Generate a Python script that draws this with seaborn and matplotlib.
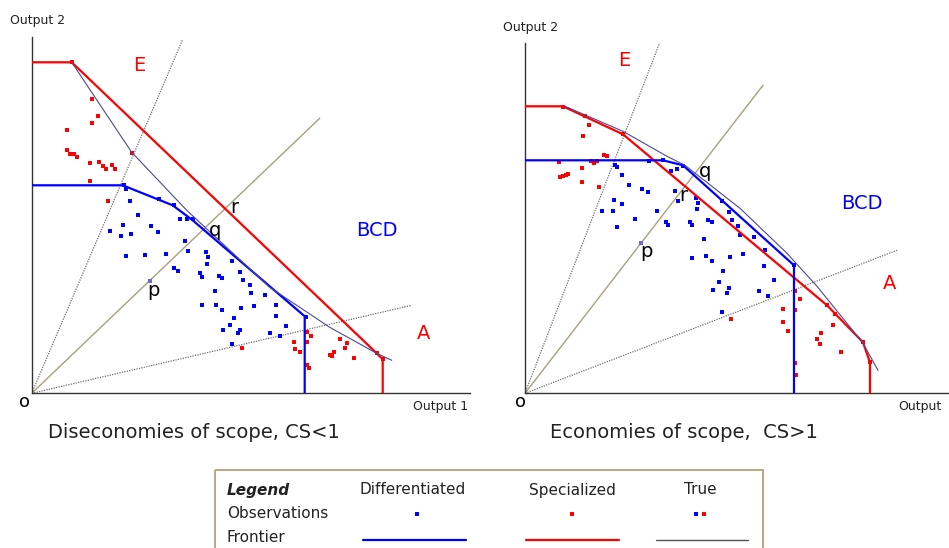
import matplotlib
matplotlib.use("Agg")
import matplotlib.pyplot as plt
import seaborn as sns
from matplotlib.patches import Rectangle

# --- Data (units: arbitrary output quantities, origin at "o") ---
# Left panel: diseconomies of scope
L_spec_front_x = [0, 40, 345, 351, 351]
L_spec_front_y = [331, 331, 40, 34, 0]
L_diff_front_x = [0, 91, 126, 141, 161, 273, 273]
L_diff_front_y = [208, 208, 194, 188, 173, 77, 0]
L_true_front_x = [40, 100, 155, 238, 298, 345, 360]
L_true_front_y = [331, 241, 183, 106, 66, 40, 33]

L_spec_obs_x = [60, 66, 60, 35, 35, 38, 42, 45, 58, 67, 71, 74, 80, 83, 100, 58, 76,
                210, 262, 263, 268, 275, 279, 275, 275, 277, 308, 315, 313, 298, 300,
                302, 322, 345, 351, 40]
L_spec_obs_y = [294, 277, 270, 263, 243, 239, 239, 236, 230, 231, 227, 224, 228, 224, 240,
                212, 192, 45, 51, 44, 41, 61, 57, 51, 28, 25, 54, 50, 45, 38, 37, 41, 35,
                40, 34, 331]
L_diff_obs_x = [92, 94, 98, 106, 127, 142, 148, 155, 161, 91, 78, 89, 99, 119, 126, 153,
                156, 134, 113, 94, 174, 176, 175, 200, 142, 146, 168, 170, 187, 190, 208,
                211, 218, 219, 183, 233, 170, 184, 190, 209, 222, 244, 202, 244, 274, 198,
                208, 206, 191, 238, 248, 254, 200]
L_diff_obs_y = [208, 204, 192, 178, 194, 188, 174, 174, 174, 168, 162, 157, 159, 167, 161,
                152, 142, 139, 138, 137, 141, 136, 129, 132, 125, 122, 120, 116, 117, 115,
                121, 113, 108, 100, 102, 98, 88, 88, 83, 85, 87, 88, 75, 77, 76, 68, 63,
                60, 63, 60, 57, 67, 49]
L_ray_end = {"E": (151, 354), "diag": (288, 275), "A": (380, 88)}
L_p_point = (118, 112)

# Right panel: economies of scope
R_spec_front_x = [0, 38, 98, 302, 338, 345, 345]
R_spec_front_y = [287, 287, 259, 88, 51, 31, 0]
R_diff_front_x = [0, 138, 158, 269, 269]
R_diff_front_y = [233, 233, 228, 128, 0]
R_true_front_x = [40, 98, 142, 160, 215, 262, 292, 322, 338, 353]
R_true_front_y = [287, 262, 237, 228, 185, 140, 107, 70, 50, 23]

R_spec_obs_x = [38, 60, 64, 58, 98, 79, 82, 34, 66, 69, 72, 57, 35, 38, 41, 43, 57, 74,
                206, 258, 258, 263, 270, 270, 275, 270, 271, 302, 310, 308, 296, 292, 295,
                316, 338, 345]
R_spec_obs_y = [286, 277, 268, 257, 259, 238, 237, 231, 232, 230, 232, 225, 216, 217, 218,
                219, 211, 206, 74, 84, 71, 62, 83, 102, 94, 30, 18, 88, 79, 68, 60, 54, 49,
                41, 51, 31]
R_diff_obs_x = [124, 138, 158, 152, 146, 90, 92, 97, 104, 117, 123, 150, 153, 171, 173,
                172, 197, 204, 89, 97, 77, 88, 132, 92, 110, 141, 143, 165, 167, 183, 187,
                207, 213, 215, 229, 179, 167, 181, 187, 205, 218, 240, 239, 198, 194, 188,
                204, 202, 234, 243, 249, 269, 197]
R_diff_obs_y = [232, 233, 227, 224, 222, 228, 226, 218, 208, 204, 201, 202, 192, 195, 190,
                184, 192, 181, 193, 189, 182, 182, 182, 166, 174, 171, 168, 171, 168, 173,
                171, 173, 167, 158, 156, 154, 135, 137, 132, 136, 139, 143, 127, 122, 111,
                103, 105, 100, 102, 97, 113, 128, 81]
R_ray_end = {"E": (136, 354), "diag": (238, 308), "A": (372, 143)}
R_p_point = (116, 150)

# --- Styling ---
RED = "#ff0000"
BLUE = "#0000ff"
TRUE_C = "#4a4a96"
RAY_C = "#707070"
DIAG_C = "#a8a07e"
TXT = "#222222"
W, H = 949, 548

sns.set_style("white")
plt.rcParams["font.family"] = ["DejaVu Sans"]

fig = plt.figure(figsize=(W / 100, H / 100), dpi=100)


def make_panel(rect, xmax, ymax):
    ax = fig.add_axes(rect)
    ax.set_xlim(0, xmax)
    ax.set_ylim(0, ymax)
    ax.set_facecolor("none")
    for s in ["top", "right"]:
        ax.spines[s].set_visible(False)
    for s in ["left", "bottom"]:
        ax.spines[s].set_color("#333333")
        ax.spines[s].set_linewidth(1.0)
    ax.set_xticks([])
    ax.set_yticks([])
    return ax


def draw_panel(ax, spec_f, diff_f, true_f, spec_o, diff_o, rays, p_pt, labels):
    # rays from origin
    for key, (ex, ey) in rays.items():
        if key == "diag":
            sns.lineplot(x=[0, ex], y=[0, ey], color=DIAG_C, lw=1.0, ax=ax,
                         sort=False, estimator=None)
        else:
            sns.lineplot(x=[0, ex], y=[0, ey], color=RAY_C, lw=0.9, ax=ax,
                         sort=False, estimator=None, linestyle=(0, (1, 1)))
    # observations
    sns.scatterplot(x=spec_o[0], y=spec_o[1], color=RED, marker="s", s=9,
                    linewidth=0, ax=ax, zorder=3)
    sns.scatterplot(x=diff_o[0], y=diff_o[1], color=BLUE, marker="s", s=9,
                    linewidth=0, ax=ax, zorder=3)
    sns.scatterplot(x=[p_pt[0]], y=[p_pt[1]], color="#6a6ad0", marker="s", s=7,
                    linewidth=0, ax=ax, zorder=3)
    # frontiers
    sns.lineplot(x=spec_f[0], y=spec_f[1], color=RED, lw=1.6, ax=ax,
                 sort=False, estimator=None, zorder=4)
    sns.lineplot(x=diff_f[0], y=diff_f[1], color=BLUE, lw=1.6, ax=ax,
                 sort=False, estimator=None, zorder=4)
    sns.lineplot(x=true_f[0], y=true_f[1], color=TRUE_C, lw=0.8, ax=ax,
                 sort=False, estimator=None, zorder=5)
    for txt, (tx, ty), col, fs in labels:
        ax.text(tx, ty, txt, color=col, fontsize=fs, ha="center", va="center",
                clip_on=False, zorder=6)


axL = make_panel([31.7 / W, (H - 393.3) / H, 438 / W, 356.6 / H], 438, 356.6)
draw_panel(axL,
           (L_spec_front_x, L_spec_front_y),
           (L_diff_front_x, L_diff_front_y),
           (L_true_front_x, L_true_front_y),
           (L_spec_obs_x, L_spec_obs_y),
           (L_diff_obs_x, L_diff_obs_y),
           L_ray_end, L_p_point,
           [("E", (108, 328), RED, 14), ("A", (392, 60), RED, 14),
            ("BCD", (345, 163), BLUE, 14), ("r", (203, 186), "black", 14),
            ("q", (183, 163), "black", 14), ("p", (122, 103), "black", 14)])

axR = make_panel([525 / W, (H - 393.3) / H, 423 / W, 350 / H], 423, 350)
draw_panel(axR,
           (R_spec_front_x, R_spec_front_y),
           (R_diff_front_x, R_diff_front_y),
           (R_true_front_x, R_true_front_y),
           (R_spec_obs_x, R_spec_obs_y),
           (R_diff_obs_x, R_diff_obs_y),
           R_ray_end, R_p_point,
           [("E", (99, 333), RED, 14), ("A", (365, 110), RED, 14),
            ("BCD", (337, 190), BLUE, 14), ("r", (158, 198), "black", 14),
            ("q", (180, 222), "black", 14), ("p", (121, 142), "black", 14)])

# --- Overlay axes in pixel coords for captions and legend ---
ov = fig.add_axes([0, 0, 1, 1])
ov.set_xlim(0, W)
ov.set_ylim(H, 0)
ov.axis("off")
ov.set_facecolor("none")

ov.text(10, 20.7, "Output 2", fontsize=9, color=TXT, va="center", ha="left")
ov.text(503, 27.7, "Output 2", fontsize=9, color=TXT, va="center", ha="left")
ov.text(468, 406.7, "Output 1", fontsize=9, color=TXT, va="center", ha="right")
ov.text(942, 406.7, "Output", fontsize=9, color=TXT, va="center", ha="right")
ov.text(25, 402, "o", fontsize=13, color="black", va="center", ha="center")
ov.text(521, 402, "o", fontsize=13, color="black", va="center", ha="center")
ov.text(48, 433, "Diseconomies of scope, CS<1", fontsize=14, color=TXT,
        va="center", ha="left")
ov.text(550, 433, "Economies of scope,  CS>1", fontsize=14, color=TXT,
        va="center", ha="left")

# legend box
ov.add_patch(Rectangle((215, 470), 547.7, 90, fill=False, edgecolor="#b5ad8a",
                       lw=1.5, clip_on=False))
ov.text(227, 490, "Legend", fontsize=11, fontweight="bold", fontstyle="italic",
        color=TXT, va="center", ha="left")
ov.text(227, 513, "Observations", fontsize=11, color=TXT, va="center", ha="left")
ov.text(227, 537, "Frontier", fontsize=11, color=TXT, va="center", ha="left")
for name, cx in [("Differentiated", 413), ("Specialized", 572.7), ("True", 700)]:
    ov.text(cx, 490, name, fontsize=11, color=TXT, va="center", ha="center")
ov.plot([416.7], [514], marker="s", ms=3, color=BLUE, mew=0)
ov.plot([572.3], [514], marker="s", ms=3, color=RED, mew=0)
ov.plot([696], [514], marker="s", ms=3, color=BLUE, mew=0)
ov.plot([704.3], [514], marker="s", ms=3, color=RED, mew=0)
ov.plot([363.3, 466], [540, 540], color=BLUE, lw=1.6)
ov.plot([526, 619.3], [540, 540], color=RED, lw=1.6)
ov.plot([655.7, 748.3], [540, 540], color="#555555", lw=1.0)

fig.savefig("out.png", dpi=100)
